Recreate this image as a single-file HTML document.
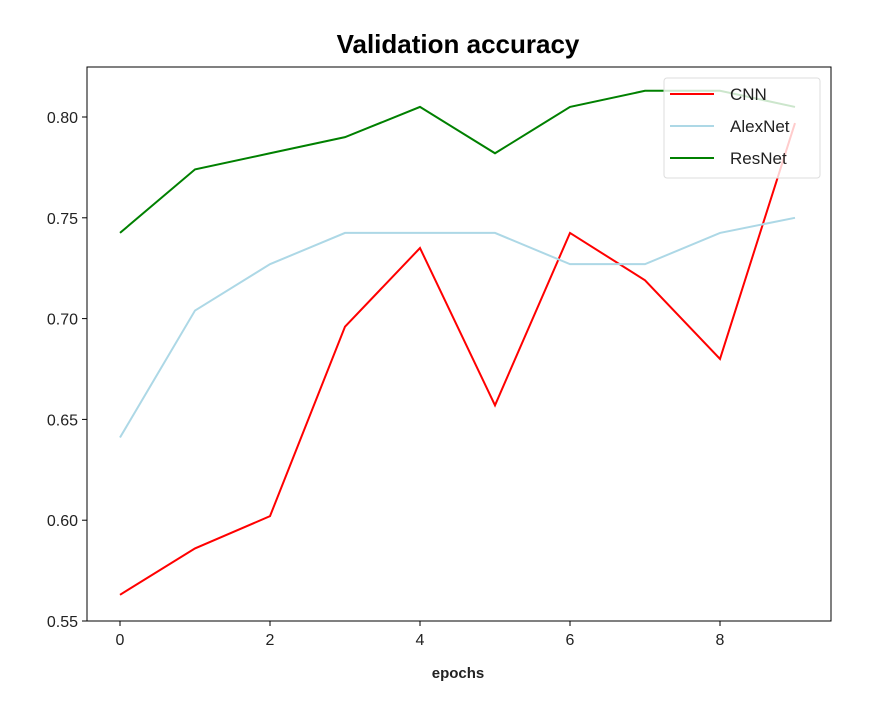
<!DOCTYPE html>
<html><head><meta charset="utf-8"><style>
body{margin:0;background:#fff;}
svg text{font-family:"Liberation Sans","DejaVu Sans",sans-serif;}
</style></head><body>
<svg width="885" height="696">
<g id="plot"></g>
</svg>
<script>
const epochs=[0,1,2,3,4,5,6,7,8,9];
const cnn=[0.563,0.586,0.602,0.696,0.735,0.657,0.7425,0.719,0.680,0.797];
const alexnet=[0.641,0.704,0.727,0.7425,0.7425,0.7425,0.727,0.727,0.7425,0.750];
const resnet=[0.7425,0.774,0.782,0.790,0.805,0.782,0.805,0.813,0.813,0.805];
const yTicks=[0.55,0.60,0.65,0.70,0.75,0.80];
const xTicks=[0,2,4,6,8];
const L=87,R=831,T=67,B=621;
const x=v=>120+v*75;
const y=v=>621-(v-0.55)*2016;
const NS="http://www.w3.org/2000/svg";
const g=document.getElementById('plot');
function mk(t,a,txt){const e=document.createElementNS(NS,t);for(const k in a)e.setAttribute(k,a[k]);if(txt!==undefined)e.textContent=txt;g.appendChild(e);return e;}
let e=mk('text',{x:458,y:53,'text-anchor':'middle','font-size':26,'font-weight':'bold',fill:'#000'},'Validation accuracy');


yTicks.forEach(v=>{
 let l=mk('line',{x1:L-5,x2:L,y1:y(v),y2:y(v),stroke:'#000'});
 
 
 let t=mk('text',{x:L-9,y:y(v)+6,'text-anchor':'end','font-size':16,fill:'#222'},v.toFixed(2));
 
 
});
xTicks.forEach(v=>{
 let l=mk('line',{x1:x(v),x2:x(v),y1:B,y2:B+5,stroke:'#000'});
 
 
 let t=mk('text',{x:x(v),y:B+24,'text-anchor':'middle','font-size':16,fill:'#222'},String(v));
 
 
});
e=mk('text',{x:458,y:678,'text-anchor':'middle','font-size':15,'font-weight':'bold',fill:'#222'},'epochs');


const series=[['cnn',cnn,'#ff0000'],['alexnet',alexnet,'#add8e6'],['resnet',resnet,'#008000']];
series.forEach(([n,d,c])=>{
 let p=mk('polyline',{points:d.map((v,i)=>x(epochs[i])+','+y(v)).join(' '),fill:'none',stroke:c,'stroke-width':2});
 
 
});
e=mk('rect',{x:L,y:T,width:R-L,height:B-T,fill:'none',stroke:'#000','stroke-width':1});


e=mk('rect',{x:664,y:78,width:156,height:100,rx:3,fill:'#fff','fill-opacity':0.8,stroke:'#ddd'});


const names=['CNN','AlexNet','ResNet'];
series.forEach(([n,d,c],i)=>{
 const yy=94+i*32;
 let l=mk('line',{x1:670,x2:714,y1:yy,y2:yy,stroke:c,'stroke-width':2});
 
 
 let t=mk('text',{x:730,y:yy+6,'font-size':17,fill:'#222'},names[i]);
 
 
});
</script>
</body></html>
